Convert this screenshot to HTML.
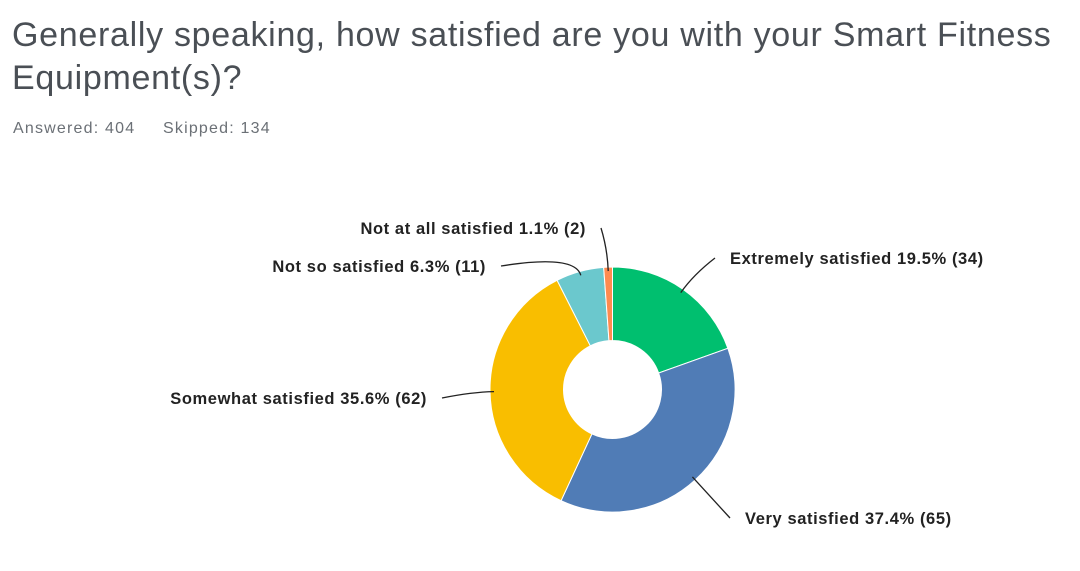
<!DOCTYPE html>
<html><head><meta charset="utf-8"><style>
body{margin:0;width:1080px;height:571px;background:#fff;font-family:"Liberation Sans",sans-serif;overflow:hidden}
h1{position:absolute;left:12px;top:14px;margin:0;font-weight:normal;font-size:34px;letter-spacing:0.7px;line-height:43px;color:#4a4f55;width:1068px}
.meta{position:absolute;top:120px;font-size:16px;letter-spacing:1.2px;color:#6b7076}
svg{position:absolute;left:0;top:0}
</style></head><body>
<h1>Generally speaking, how satisfied are you with your Smart Fitness Equipment(s)?</h1>
<div class="meta" style="left:13px">Answered: 404</div>
<div class="meta" style="left:163px">Skipped: 134</div>
<svg id="chart" width="1080" height="571"></svg>
<script>
const categories=["Extremely satisfied","Very satisfied","Somewhat satisfied","Not so satisfied","Not at all satisfied"];
const percents=[19.5,37.4,35.6,6.3,1.1];
const counts=[34,65,62,11,2];
const colors=["#00bf6f","#507cb6","#f9be00","#6bc8cd","#ff8b4f"];
const labelPos=[[730,264,"start"],[745,524,"start"],[427,404,"end"],[486,272,"end"],[586,234,"end"]];
const NS="http://www.w3.org/2000/svg";
const svg=document.getElementById("chart");
const cx=612.5,cy=389.5,R=122.5,r=49;
const total=counts.reduce((a,b)=>a+b,0);
function pt(a,rad){return [cx+rad*Math.sin(a),cy-rad*Math.cos(a)];}
let ang=0;
counts.forEach((c,i)=>{
  const a0=ang,a1=ang+c/total*2*Math.PI;ang=a1;
  const large=(a1-a0)>Math.PI?1:0;
  const p0=pt(a0,R),p1=pt(a1,R),q1=pt(a1,r),q0=pt(a0,r);
  const path=document.createElementNS(NS,"path");
  path.setAttribute("d",`M${p0}A${R},${R} 0 ${large} 1 ${p1}L${q1}A${r},${r} 0 ${large} 0 ${q0}Z`);
  path.setAttribute("fill",colors[i]);path.setAttribute("stroke","#fff");path.setAttribute("stroke-width","1");
  
  
  svg.appendChild(path);
  const am=(a0+a1)/2;const s=pt(am,R-4);
  const lp=labelPos[i];
  const ex=lp[2]=="start"?lp[0]-15:lp[0]+15, ey=lp[1]-6;
  const mid=pt(am,R+18);
  const ln=document.createElementNS(NS,"path");
  ln.setAttribute("d",`M${s}Q${mid} ${ex},${ey}`);
  ln.setAttribute("fill","none");ln.setAttribute("stroke","#222");ln.setAttribute("stroke-width","1.3");
  
  
  svg.appendChild(ln);
  const t=document.createElementNS(NS,"text");
  t.setAttribute("x",lp[0]);t.setAttribute("y",lp[1]);t.setAttribute("text-anchor",lp[2]);
  t.setAttribute("font-size","16.5");t.setAttribute("font-weight","bold");t.setAttribute("fill","#222");
  t.setAttribute("letter-spacing","0.6");
  t.setAttribute("font-family","Liberation Sans, sans-serif");
  t.textContent=`${categories[i]} ${percents[i]}% (${counts[i]})`;
  
  
  svg.appendChild(t);
});
</script>
</body></html>
